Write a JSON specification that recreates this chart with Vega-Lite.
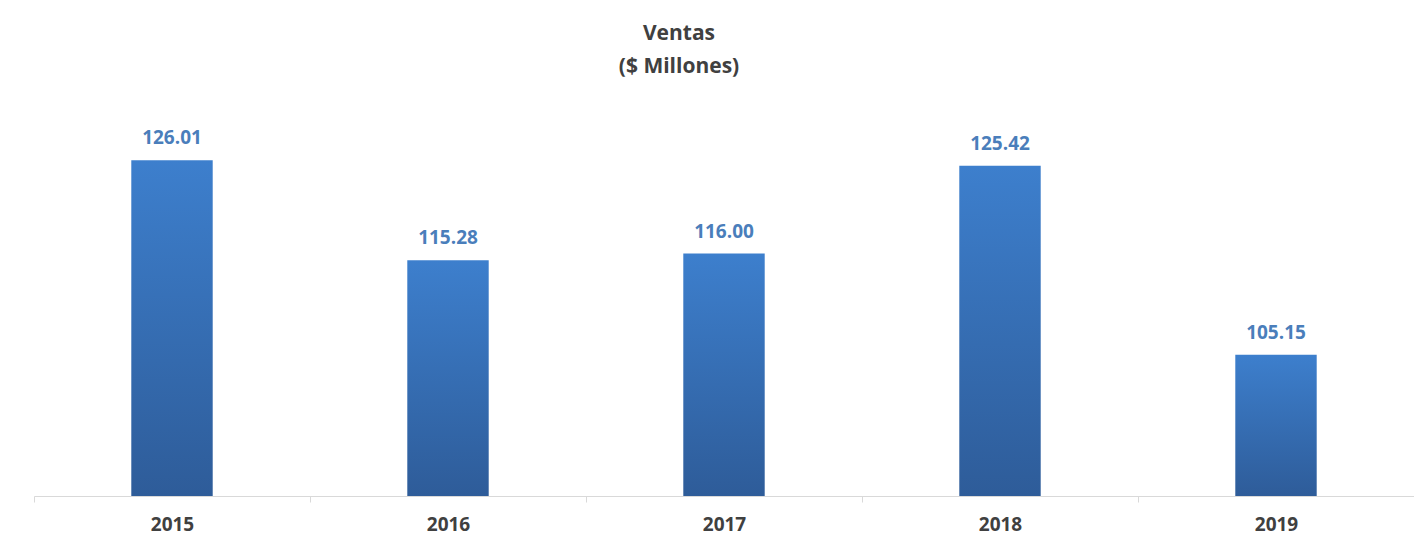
{
  "$schema": "https://vega.github.io/schema/vega-lite/v6.json",
  "autosize": "none",
  "width": 1380,
  "height": 373,
  "padding": {"left": 34, "top": 123, "right": 0, "bottom": 40},
  "background": "#ffffff",
  "view": {"stroke": null},
  "title": {
    "text": ["Ventas", "($ Millones)"],
    "anchor": "middle",
    "dx": -45,
    "offset": 46,
    "font": "Open Sans",
    "fontSize": 21,
    "fontWeight": "bold",
    "color": "#404040",
    "lineHeight": 33
  },
  "data": {
    "values": [
      {"year": "2015", "ventas": 126.01},
      {"year": "2016", "ventas": 115.28},
      {"year": "2017", "ventas": 116.00},
      {"year": "2018", "ventas": 125.42},
      {"year": "2019", "ventas": 105.15}
    ]
  },
  "encoding": {
    "x": {
      "field": "year",
      "type": "nominal",
      "scale": {"paddingInner": 0, "paddingOuter": 0},
      "axis": {
        "title": null,
        "labelAngle": 0,
        "tickBand": "extent",
        "domainColor": "#d9d9d9",
        "tickColor": "#d9d9d9",
        "tickSize": 6,
        "labelFont": "Open Sans",
        "labelFontSize": 19,
        "labelFontWeight": "bold",
        "labelColor": "#404040",
        "labelPadding": 13
      }
    },
    "y": {
      "field": "ventas",
      "type": "quantitative",
      "scale": {"domain": [90, 130], "zero": false, "nice": false},
      "axis": null
    }
  },
  "layer": [
    {
      "mark": {
        "type": "bar",
        "width": {"band": 0.295},
        "color": {
          "gradient": "linear",
          "x1": 0, "y1": 0, "x2": 0, "y2": 1,
          "stops": [
            {"offset": 0, "color": "#3d7fcd"},
            {"offset": 1, "color": "#2e5c99"}
          ]
        }
      },
      "encoding": {"y2": {"datum": 90}}
    },
    {
      "mark": {
        "type": "text",
        "dy": -22,
        "font": "Open Sans",
        "fontSize": 19,
        "fontWeight": "bold",
        "color": "#4a7ebb"
      },
      "encoding": {"text": {"field": "ventas", "type": "quantitative", "format": ".2f"}}
    }
  ]
}
